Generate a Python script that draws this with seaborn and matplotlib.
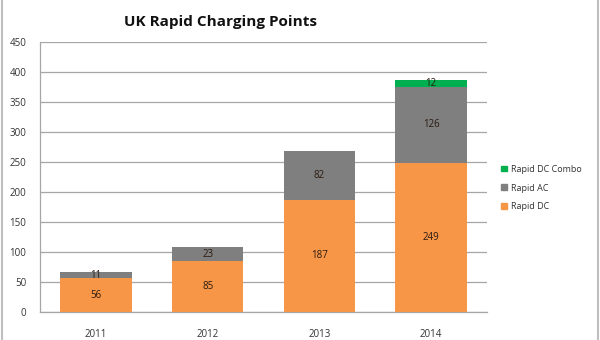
import matplotlib
matplotlib.use("Agg")
import matplotlib.pyplot as plt
import seaborn as sns
import numpy as np
import pandas as pd
from matplotlib.patches import Rectangle
from matplotlib.lines import Line2D

years = ["2011", "2012", "2013", "2014"]
rapid_dc = [56, 85, 187, 249]
rapid_ac = [11, 23, 82, 126]
rapid_combo = [0, 0, 0, 12]
series_names = ["Rapid DC", "Rapid AC", "Rapid DC Combo"]
colors = {"Rapid DC": "#F79646", "Rapid AC": "#7F7F7F", "Rapid DC Combo": "#00B050"}

sns.set_theme(style="white")
plt.rcParams['font.family'] = ['Open Sans', 'DejaVu Sans']

fig = plt.figure(figsize=(6, 3.4), dpi=100)
ax = fig.add_axes([0.0667, 0.0824, 0.745, 0.794])

df = pd.DataFrame({"year": years, "Rapid DC": rapid_dc, "Rapid AC": rapid_ac, "Rapid DC Combo": rapid_combo})
bottom = np.zeros(len(years))
for name in series_names:
    vals = np.array(df[name], dtype=float)
    sns.barplot(x=df["year"], y=vals, bottom=bottom, color=colors[name], width=0.64,
                ax=ax, saturation=1, edgecolor="none", linewidth=0, zorder=3)
    for i, v in enumerate(vals):
        if v > 0:
            ax.text(i, bottom[i] + v / 2, f"{int(v)}", ha="center", va="center",
                    fontsize=7, color="#2a1a10", zorder=4)
    bottom = bottom + vals

ax.set_ylim(0, 450)
ax.set_xlim(-0.5, 3.5)
ax.set_yticks(range(0, 451, 50))
ax.yaxis.grid(True, color="#A6A6A6", linewidth=0.9, zorder=0)
ax.set_axisbelow(True)
for s in ["top", "right"]:
    ax.spines[s].set_visible(False)
for s in ["left", "bottom"]:
    ax.spines[s].set_color("#A6A6A6")
    ax.spines[s].set_linewidth(0.9)
ax.tick_params(axis="both", labelsize=7, colors="#333333", length=0, pad=12)
ax.tick_params(axis="y", pad=10)
ax.set_xlabel("")
ax.set_ylabel("")

fig.text(0.368, 0.935, "UK Rapid Charging Points", ha="center", va="center",
         fontsize=11, fontweight="bold", color="#111111")

handles = [Rectangle((0, 0), 1, 1, color=colors[n]) for n in ["Rapid DC Combo", "Rapid AC", "Rapid DC"]]
leg = fig.legend(handles, ["Rapid DC Combo", "Rapid AC", "Rapid DC"], loc="center left",
                 bbox_to_anchor=(0.822, 0.447), frameon=False, fontsize=6.5,
                 handlelength=0.6, handleheight=0.6, handletextpad=0.5, labelspacing=1.1)
for t in leg.get_texts():
    t.set_color("#333333")

fig.add_artist(Line2D([0.004, 0.004], [0, 1], transform=fig.transFigure, color="#BFBFBF", linewidth=1.5))
fig.add_artist(Line2D([0.996, 0.996], [0, 1], transform=fig.transFigure, color="#BFBFBF", linewidth=1.5))

fig.savefig("out.png", dpi=100)
